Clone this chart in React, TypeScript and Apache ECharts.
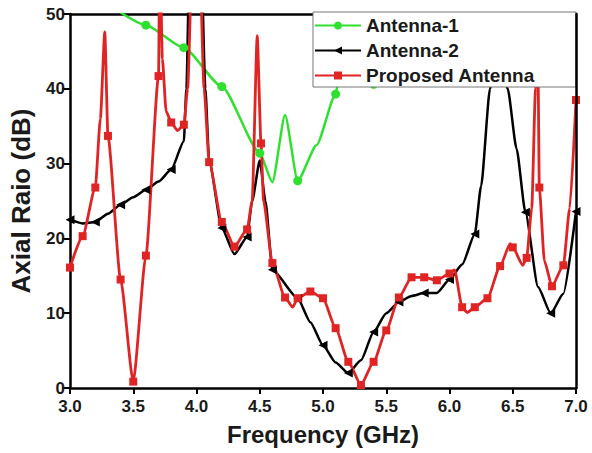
import React, { useEffect, useRef } from "react";
import * as echarts from "echarts";

// ---- Data ----
// Proposed Antenna (red)
const redFreq = [3.0, 3.1, 3.2, 3.24, 3.275, 3.3, 3.4, 3.5, 3.6, 3.7, 3.71, 3.73, 3.76, 3.8, 3.85, 3.9, 3.93, 3.97, 4.02, 4.06, 4.1, 4.2, 4.3, 4.4, 4.44, 4.48, 4.51, 4.53, 4.6, 4.7, 4.76, 4.8, 4.9, 5.0, 5.1, 5.2, 5.3, 5.4, 5.5, 5.6, 5.7, 5.8, 5.9, 6.0, 6.04, 6.1, 6.14, 6.2, 6.3, 6.4, 6.48, 6.5, 6.58, 6.61, 6.65, 6.68, 6.69, 6.7, 6.71, 6.75, 6.81, 6.9, 6.95, 7.0];
const redAR = [16.1, 20.3, 26.8, 36, 47.6, 33.7, 14.5, 0.85, 17.7, 41.7, 60, 44, 37, 35.5, 34.4, 35.2, 40, 60, 60, 40, 30.2, 22.2, 18.9, 21.2, 25, 47.1, 32.7, 25, 16.7, 12.1, 10.8, 12.0, 12.9, 12.0, 8.0, 3.5, 0.4, 3.5, 7.7, 12.1, 14.8, 14.8, 14.4, 15.3, 15.8, 10.8, 10.1, 10.8, 12.0, 16.3, 19.3, 18.8, 16.4, 17.4, 24, 40, 49, 42, 26.8, 17, 13.6, 16.4, 24, 38.5];
const redMark = [1, 1, 1, 0, 0, 1, 1, 1, 1, 1, 0, 0, 0, 1, 0, 1, 0, 0, 0, 0, 1, 1, 1, 1, 0, 0, 1, 0, 1, 1, 0, 1, 1, 1, 1, 1, 1, 1, 1, 1, 1, 1, 1, 1, 0, 1, 0, 1, 1, 1, 0, 1, 0, 1, 0, 0, 0, 0, 1, 0, 1, 1, 0, 1];

// Antenna-1 (green)
const greenFreq = [3.4, 3.6, 3.9, 4.2, 4.5, 4.6, 4.7, 4.8, 4.95, 5.1, 5.15, 5.25, 5.4, 5.5];
const greenAR = [50.2, 48.5, 45.5, 40.3, 31.4, 27.5, 36.5, 27.7, 32.5, 39.3, 44, 47, 40.6, 45];
const greenMark = [0, 1, 1, 1, 1, 0, 0, 1, 0, 1, 0, 0, 1, 0];

// Antenna-2 (black)
const blackFreq = [3.0, 3.1, 3.2, 3.3, 3.4, 3.5, 3.6, 3.7, 3.8, 3.9, 3.92, 3.95, 4.03, 4.07, 4.1, 4.2, 4.3, 4.4, 4.44, 4.5, 4.545, 4.6, 4.8, 4.9, 5.0, 5.1, 5.2, 5.3, 5.4, 5.5, 5.6, 5.7, 5.8, 5.9, 6.0, 6.1, 6.2, 6.25, 6.32, 6.38, 6.46, 6.53, 6.6, 6.7, 6.8, 6.9, 7.0];
const blackAR = [22.5, 22.0, 22.2, 23.3, 24.5, 25.5, 26.5, 27.6, 29.2, 33.0, 40, 62, 62, 40, 30.4, 21.4, 17.9, 20.2, 25, 30.4, 25, 15.8, 12.0, 8.8, 5.7, 3.4, 2.0, 3.7, 7.5, 10.0, 11.5, 12.3, 12.7, 12.7, 14.5, 16.5, 20.6, 27, 40, 46, 40, 32, 23.5, 13.5, 10.0, 12.6, 23.6];
const blackMark = [1, 0, 1, 0, 1, 0, 1, 0, 1, 0, 0, 0, 0, 0, 0, 1, 0, 1, 0, 0, 0, 1, 1, 0, 1, 0, 1, 0, 1, 0, 1, 0, 1, 0, 1, 0, 1, 0, 0, 1, 0, 0, 1, 0, 1, 0, 1];

const xTicks = [3.0, 3.5, 4.0, 4.5, 5.0, 5.5, 6.0, 6.5, 7.0];
const yTicks = [0, 10, 20, 30, 40, 50];

const FONT = "'Liberation Sans', Arial, Helvetica, sans-serif";

function build(freq: number[], vals: number[], mark: number[]) {
  return freq.map((f, i) =>
    mark[i] ? { value: [f, vals[i]] } : { value: [f, vals[i]], symbol: "none" }
  );
}

export default function App() {
  const ref = useRef<HTMLDivElement>(null);
  useEffect(() => {
    if (!ref.current) return;
    const chart = echarts.init(ref.current, undefined, { renderer: "svg" });
    const axisLabel = { fontFamily: FONT, fontWeight: "bold" as const, fontSize: 17, color: "#1a1a1a" };
    chart.setOption({
      animation: false,
      backgroundColor: "#ffffff",
      grid: { left: 70, right: 16, top: 14, bottom: 65, containLabel: false },
      xAxis: [
        {
          type: "value",
          position: "bottom",
          min: xTicks[0],
          max: xTicks[xTicks.length - 1],
          interval: 0.5,
          axisLine: { show: true, onZero: false, lineStyle: { color: "#000", width: 2.5 } },
          axisTick: { show: true, inside: false, length: 6, lineStyle: { color: "#000", width: 2 } },
          axisLabel: { ...axisLabel, margin: 10, formatter: (v: number) => v.toFixed(1) },
          splitLine: { show: false },
          name: "Frequency (GHz)",
          nameLocation: "middle",
          nameGap: 34,
          nameTextStyle: { fontFamily: FONT, fontWeight: "bold", fontSize: 24, color: "#1a1a1a" },
        },
        {
          type: "value",
          position: "top",
          min: xTicks[0],
          max: xTicks[xTicks.length - 1],
          axisLine: { show: true, onZero: false, lineStyle: { color: "#000", width: 2.5 } },
          axisTick: { show: false },
          axisLabel: { show: false },
          splitLine: { show: false },
        },
      ],
      yAxis: [
        {
          type: "value",
          position: "left",
          min: yTicks[0],
          max: yTicks[yTicks.length - 1],
          interval: 10,
          axisLine: { show: true, onZero: false, lineStyle: { color: "#000", width: 2.5 } },
          axisTick: { show: true, inside: false, length: 8, lineStyle: { color: "#000", width: 2 } },
          axisLabel: { ...axisLabel, margin: 5 },
          splitLine: { show: false },
          name: "Axial Raio (dB)",
          nameLocation: "middle",
          nameGap: 36,
          nameRotate: 90,
          nameTextStyle: { fontFamily: FONT, fontWeight: "bold", fontSize: 26, color: "#1a1a1a" },
        },
        {
          type: "value",
          position: "right",
          min: yTicks[0],
          max: yTicks[yTicks.length - 1],
          z: 10,
          axisLine: { show: true, onZero: false, lineStyle: { color: "#000", width: 2.5 } },
          axisTick: { show: false },
          axisLabel: { show: false },
          splitLine: { show: false },
        },
      ],
      legend: {
        orient: "vertical",
        left: 313,
        top: 13,
        z: 8,
        itemWidth: 46,
        itemHeight: 10,
        itemGap: 6,
        padding: [3, 5, 3, 1],
        textStyle: { fontFamily: FONT, fontWeight: "bold", fontSize: 19, color: "#1a1a1a" },
        data: ["Antenna-1", "Antenna-2", "Proposed Antenna"],
      },
      graphic: [
        {
          type: "rect",
          z: 6,
          shape: { x: 313, y: 12, width: 263, height: 75 },
          style: { fill: "#ffffff", stroke: "#777777", lineWidth: 1 },
        },
      ],
      series: [
        {
          name: "Antenna-1",
          type: "line",
          clip: true,
          smooth: 0.2,
          smoothMonotone: "x",
          showAllSymbol: true,
          symbol: "circle",
          symbolSize: 9,
          data: build(greenFreq, greenAR, greenMark),
          lineStyle: { color: "#2fe02f", width: 2.5 },
          itemStyle: { color: "#2fe02f" },
        },
        {
          name: "Antenna-2",
          type: "line",
          clip: true,
          smooth: 0.2,
          smoothMonotone: "x",
          showAllSymbol: true,
          symbol: "triangle",
          symbolRotate: 90,
          symbolSize: 9,
          data: build(blackFreq, blackAR, blackMark),
          lineStyle: { color: "#000000", width: 2.5 },
          itemStyle: { color: "#000000" },
        },
        {
          name: "Proposed Antenna",
          type: "line",
          clip: true,
          smooth: 0.2,
          smoothMonotone: "x",
          showAllSymbol: true,
          symbol: "rect",
          symbolSize: 8,
          data: build(redFreq, redAR, redMark),
          lineStyle: { color: "#e02424", width: 2.8 },
          itemStyle: { color: "#e02424" },
        },
      ],
    });
    return () => chart.dispose();
  }, []);
  return (
    <div
      ref={ref}
      style={{ position: "fixed", left: 0, top: 0, width: 592, height: 453, background: "#fff" }}
    />
  );
}
